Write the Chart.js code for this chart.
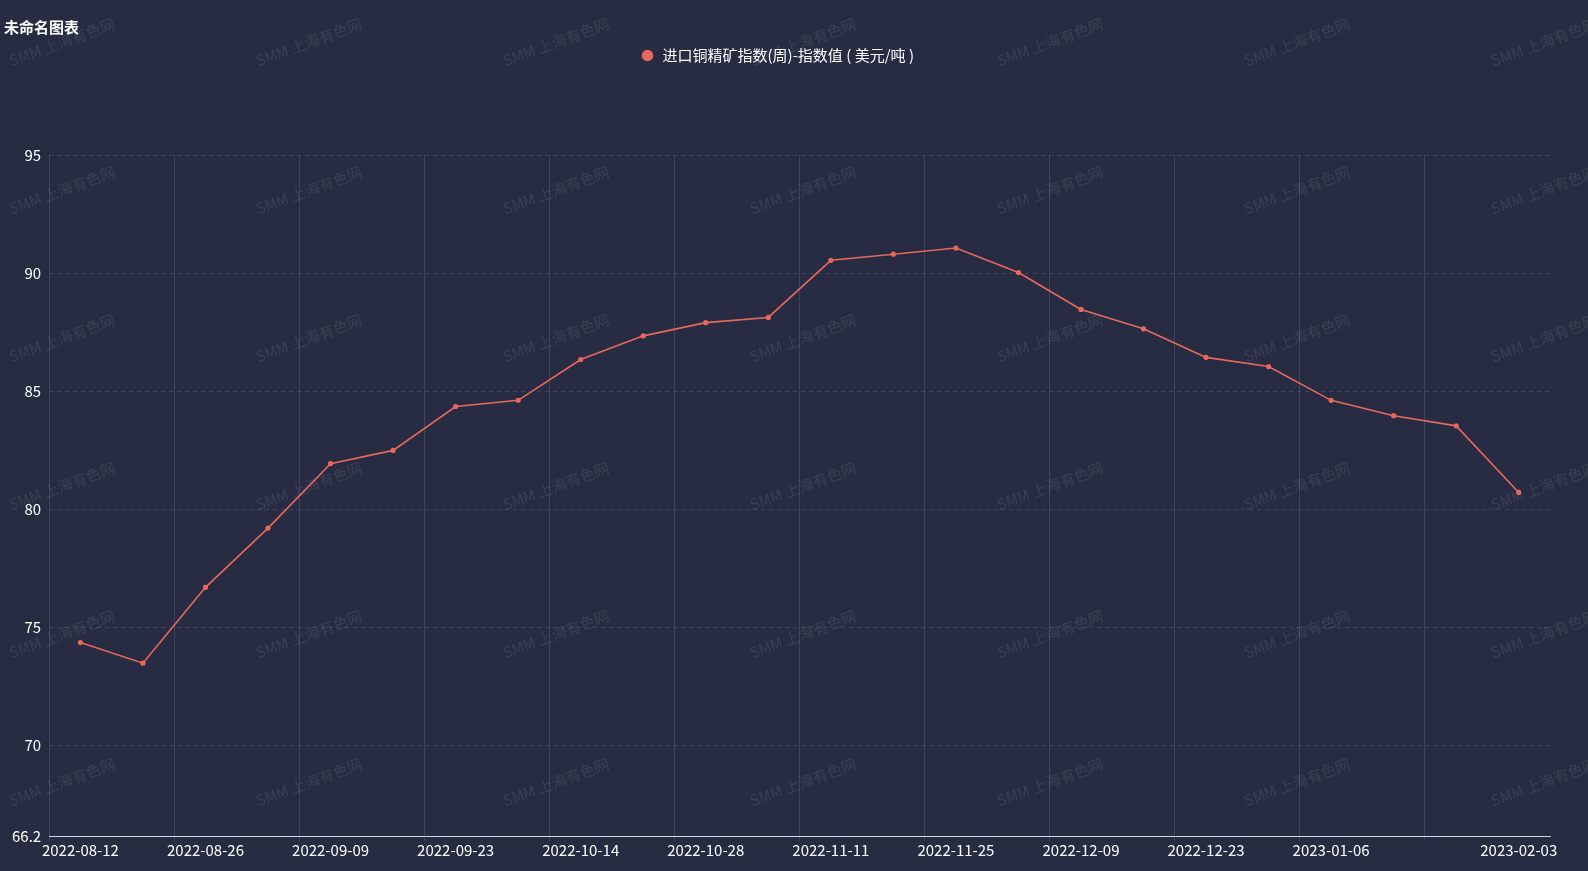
<!DOCTYPE html>
<html>
<head>
<meta charset="utf-8">
<script src="https://cdn.jsdelivr.net/npm/chart.js@4/dist/chart.umd.min.js"></script>
<style>
  html, body { margin: 0; padding: 0; background: #272c42; overflow: hidden; }
  #wrap { position: relative; width: 1588px; height: 871px; }
  #title { position: absolute; left: 4px; top: 16px; color: #fff; font: bold 15px "Noto Sans CJK SC", sans-serif; }
</style>
</head>
<body>
<div id="wrap">
  <div id="title">未命名图表</div>
  <canvas id="chart" width="1588" height="871"></canvas>
</div>
<script>
const dates = ['2022-08-12', '2022-08-19', '2022-08-26', '2022-09-02', '2022-09-09', '2022-09-16',
    '2022-09-23', '2022-09-30', '2022-10-14', '2022-10-21', '2022-10-28', '2022-11-04',
    '2022-11-11', '2022-11-18', '2022-11-25', '2022-12-02', '2022-12-09', '2022-12-16',
    '2022-12-23', '2022-12-30', '2023-01-06', '2023-01-13', '2023-01-20', '2023-02-03'];
const indexValues = [74.35, 73.48, 76.69, 79.2, 81.93, 82.49, 84.35, 84.61, 86.34, 87.34, 87.9, 88.12,
    90.54, 90.8, 91.06, 90.02, 88.46, 87.64, 86.43, 86.04, 84.61, 83.96, 83.53, 80.71];
const yTicks = [66.16, 70, 75, 80, 85, 90, 95];

const font = { family: '"Noto Sans CJK SC", sans-serif', size: 15 };
const gridColor = 'rgba(120,135,170,0.28)';

const watermark = {
    id: 'watermark',
    beforeDatasetsDraw(chart) {
        const ctx = chart.ctx;
        ctx.save();
        ctx.fillStyle = 'rgba(255,255,255,0.09)';
        ctx.font = '15px "Noto Sans CJK SC", sans-serif';
        ctx.textAlign = 'center';
        ctx.textBaseline = 'middle';
        for (let x = 62; x < 1700; x += 247) {
            for (let y = 42; y < 871; y += 148) {
                ctx.save();
                ctx.translate(x, y);
                ctx.rotate(-20 * Math.PI / 180);
                ctx.fillText('SMM 上海有色网', 0, 0);
                ctx.restore();
            }
        }
        ctx.restore();
    }
};

const legendGap = {
    id: 'legendGap',
    beforeInit(chart) {
        const fit = chart.legend.fit;
        chart.legend.fit = function () {
            fit.bind(chart.legend)();
            this.height += 82;
        };
    }
};

const ctx = document.getElementById('chart').getContext('2d');
new Chart(ctx, {
    type: 'line',
    data: {
        labels: dates,
        datasets: [{
            label: '进口铜精矿指数(周)-指数值 ( 美元/吨 )',
            data: indexValues,
            borderColor: '#e8685e',
            backgroundColor: '#e8685e',
            borderWidth: 1.6,
            pointRadius: 1.8,
            pointHoverRadius: 4,
            tension: 0,
        }]
    },
    options: {
        responsive: false,
        animation: false,
        layout: { padding: { top: 38, left: 4, right: 38, bottom: 12 } },
        scales: {
            x: {
                offset: true,
                grid: {
                    offset: true,
                    color: (c) => c.index % 2 === 0 ? gridColor : 'transparent',
                    borderDash: [4, 4],
                    tickLength: 5,
                },
                border: { color: '#cfd3dc', dash: [] },
                ticks: {
                    color: '#ffffff',
                    font: font,
                    autoSkip: false,
                    maxRotation: 0,
                    padding: 0,
                    callback: (v, i) => (i % 2 === 0 && i !== 22) || i === 23 ? dates[i] : '',
                }
            },
            y: {
                min: 66.16,
                max: 95,
                afterBuildTicks: (axis) => { axis.ticks = yTicks.map(v => ({ value: v })); },
                grid: { color: gridColor, tickLength: 0 },
                border: { display: false, dash: [4, 4] },
                ticks: { color: '#ffffff', font: font, padding: 8 }
            }
        },
        plugins: {
            legend: {
                display: true,
                position: 'top',
                labels: { color: '#ffffff', font: font, usePointStyle: true, pointStyle: 'circle', boxHeight: 7, padding: 10 }
            },
            tooltip: { enabled: true }
        }
    },
    plugins: [watermark, legendGap]
});
</script>
</body>
</html>
